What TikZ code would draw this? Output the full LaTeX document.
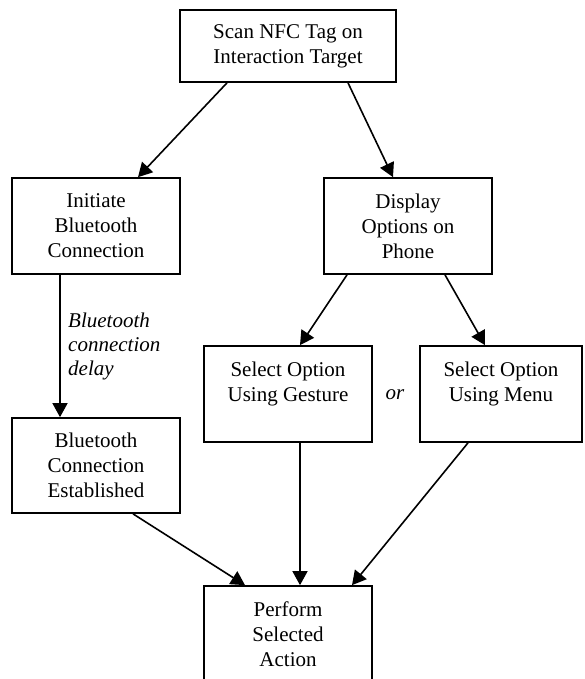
\documentclass[tikz,border=0pt]{standalone}
\usepackage{fontspec}
\setmainfont{Liberation Serif}
\usetikzlibrary{arrows.meta}
\begin{document}
\begin{tikzpicture}
  [
    x=1pt, y=-1pt,
    font=\fontsize{21}{25}\selectfont,
    arr/.tip = {Triangle[length=14pt, width=15pt]},
    block/.style =
      {draw, line width=1.7pt, rectangle, align=center, inner sep=0pt,
       minimum width=168pt, minimum height=96pt},
    note/.style =
      {align=left, inner sep=0pt, font=\fontsize{21}{24}\selectfont\itshape}
  ]
  \useasboundingbox (0,0) rectangle (585,679);
  \clip (0,0) rectangle (585,679);
  \node [block, minimum width=216pt, minimum height=72pt] at (288,46) (scan)
    {Scan NFC Tag on\\Interaction Target};
  \node [block] at ( 96,226)   (init) {Initiate\\Bluetooth\\Connection};
  \node [block] at (408,226)   (disp) {Display\\Options on\\Phone};
  \node [block] at (288,394)   (gest) {Select Option\\Using Gesture\\~};
  \node [block, minimum width=162pt] at (501,394) (menu)
    {Select Option\\Using Menu\\~};
  \node [block, minimum height=95pt] at ( 96,465.5) (estb)
    {Bluetooth\\Connection\\Established};
  \node [block] at (288,634)   (perf) {Perform\\Selected\\Action};
  \node [note, anchor=west] at (68,346) (delay)
    {Bluetooth\\connection\\delay};
  \node [note] at (395,395) (or) {or};

  \draw[line width=1.6pt, ->, >=arr] ([xshift=-61pt]scan.south) -- ([xshift=42pt]init.north);
  \draw[line width=1.6pt, ->, >=arr] ([xshift=60pt]scan.south)  -- ([xshift=-15pt]disp.north);
  \draw[line width=1.6pt, ->, >=arr] ([xshift=-36pt]init.south) -- ([xshift=-36pt]estb.north);
  \draw[line width=1.6pt, ->, >=arr] ([xshift=-61pt]disp.south) -- ([xshift=12pt]gest.north);
  \draw[line width=1.6pt, ->, >=arr] ([xshift=37pt]disp.south)  -- ([xshift=-16pt]menu.north);
  \draw[line width=1.6pt, ->, >=arr] ([xshift=12pt]gest.south)  -- ([xshift=12pt]perf.north);
  \draw[line width=1.6pt, ->, >=arr] ([xshift=-33pt]menu.south) -- ([xshift=64pt]perf.north);
  \draw[line width=1.6pt, ->, >=arr] ([xshift=37pt]estb.south)  -- ([xshift=-43pt]perf.north);
\end{tikzpicture}
\end{document}
